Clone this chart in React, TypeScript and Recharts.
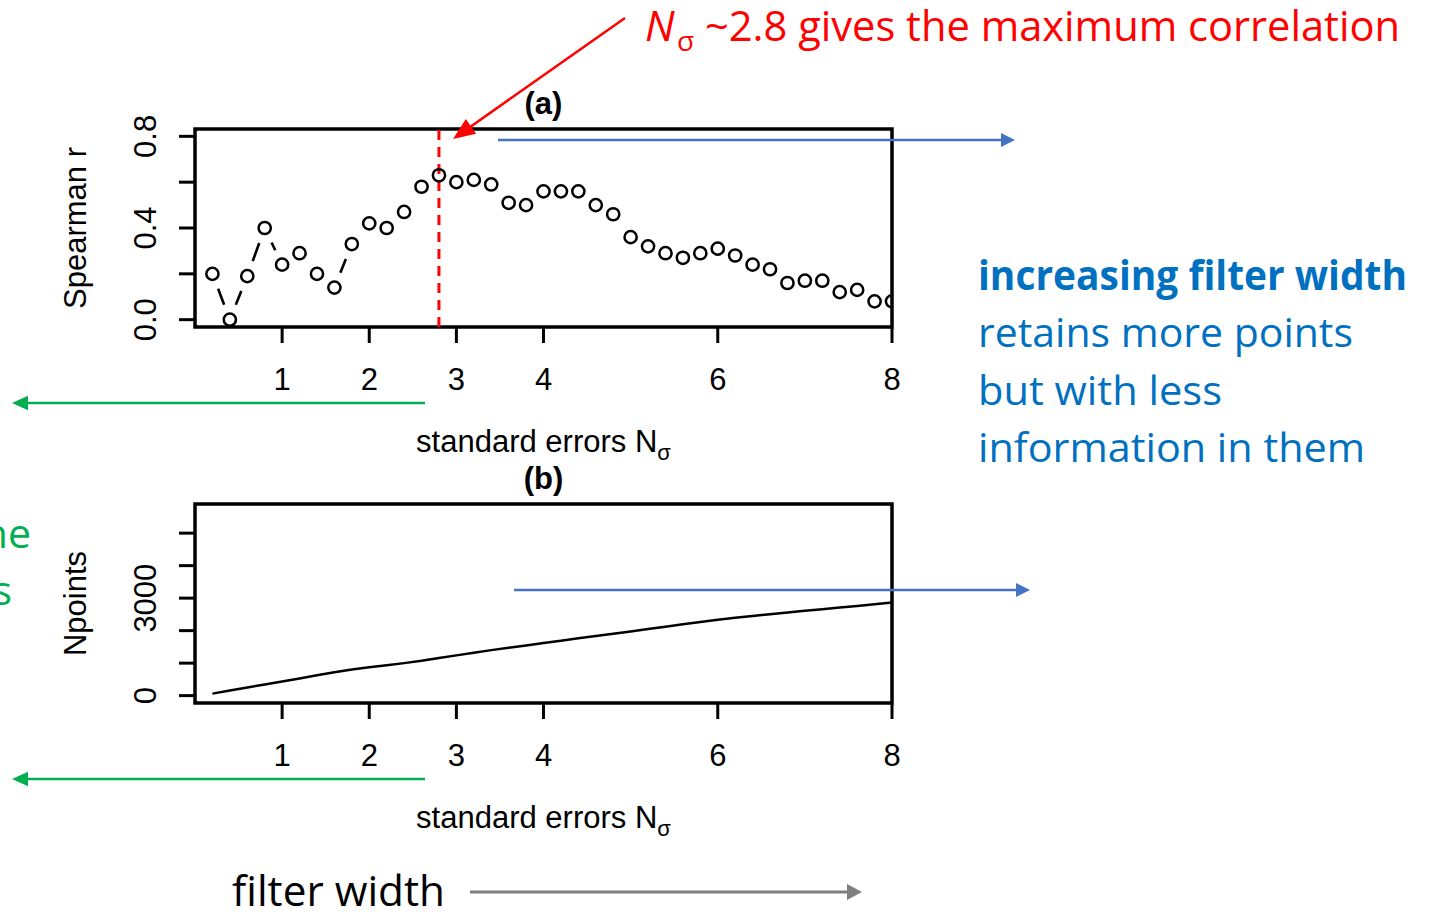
import React from 'react';
import {
  ComposedChart,
  Scatter,
  Line,
  XAxis,
  YAxis,
  ReferenceLine,
  ReferenceArea,
  Label,
} from 'recharts';

// Filter width in standard errors (N_sigma)
const nSigma = [
  0.2, 0.4, 0.6, 0.8, 1.0, 1.2, 1.4, 1.6, 1.8, 2.0,
  2.2, 2.4, 2.6, 2.8, 3.0, 3.2, 3.4, 3.6, 3.8, 4.0,
  4.2, 4.4, 4.6, 4.8, 5.0, 5.2, 5.4, 5.6, 5.8, 6.0,
  6.2, 6.4, 6.6, 6.8, 7.0, 7.2, 7.4, 7.6, 7.8, 8.0,
];

// (a) Spearman correlation for each filter width
const spearmanR = [
  0.20, 0.00, 0.19, 0.40, 0.24, 0.29, 0.20, 0.14, 0.33, 0.42,
  0.40, 0.47, 0.58, 0.63, 0.60, 0.61, 0.59, 0.51, 0.50, 0.56,
  0.56, 0.56, 0.50, 0.46, 0.36, 0.32, 0.29, 0.27, 0.29, 0.31,
  0.28, 0.24, 0.22, 0.16, 0.17, 0.17, 0.12, 0.13, 0.08, 0.08,
];

// (b) number of retained points for each filter width
const nPoints = [
  61, 155, 250, 345, 436, 530, 625, 720, 805, 875,
  935, 1000, 1070, 1155, 1239, 1320, 1400, 1470, 1545, 1619,
  1690, 1765, 1835, 1905, 1975, 2050, 2120, 2195, 2265, 2336,
  2395, 2450, 2505, 2560, 2610, 2660, 2710, 2760, 2815, 2867,
];

const xTicks = [1, 2, 3, 4, 6, 8];
const rTicks = [0, 0.2, 0.4, 0.6, 0.8];
const rTickLabels = [0, 0.4, 0.8];
const npTicks = [0, 1000, 2000, 3000, 4000, 5000];
const npTickLabels = [0, 3000];
const bestNSigma = 2.8;

const xDomain: [number, number] = [0, 8];
const rDomain: [number, number] = [-0.032, 0.832];
const npDomain: [number, number] = [-227, 5897];

const corrData = nSigma.map((x, i) => ({ x, r: spearmanR[i] }));
const countData = nSigma.map((x, i) => ({ x, n: nPoints[i] }));

// ---- styling ----
const W = 1432;
const H = 912;
const AXIS_FONT = "'Liberation Sans', Arial, Helvetica, sans-serif";
const SLIDE_FONT = "'Open Sans', 'Noto Sans', sans-serif";
const AXIS_SIZE = 31;
const RED = '#ff0000';
const BLUE_TEXT = '#0070c0';
const BLUE_ARROW = '#4472c4';
const GREEN = '#00b050';
const GRAY = '#7f7f7f';
const POINT_GAP = 16; // type="b" style gap around each point

const tickLineStyle = { stroke: '#000', strokeWidth: 3 };

const XTick = (props: any) => {
  const { x, y, payload } = props;
  return (
    <text x={x} y={y} dy={22} textAnchor="middle" fontFamily={AXIS_FONT} fontSize={AXIS_SIZE} fill="#000">
      {payload.value}
    </text>
  );
};

const makeYTick = (labelled: number[], fmt: (v: number) => string) => (props: any) => {
  const { x, y, payload } = props;
  if (!labelled.includes(payload.value)) return <g />;
  return (
    <text
      x={x}
      y={y}
      transform={`rotate(-90, ${x}, ${y})`}
      textAnchor="middle"
      fontFamily={AXIS_FONT}
      fontSize={AXIS_SIZE}
      fill="#000"
    >
      {fmt(payload.value)}
    </text>
  );
};

const XTitle = (props: any) => {
  const vb = props.viewBox || {};
  const cx = vb.x + vb.width / 2;
  const by = vb.y + 125;
  return (
    <text x={cx} y={by} textAnchor="middle" fontFamily={AXIS_FONT} fontSize={AXIS_SIZE} fill="#000">
      standard errors N
      <tspan dy={8} fontSize={22}>σ</tspan>
    </text>
  );
};

const makeYTitle = (title: string) => (props: any) => {
  const vb = props.viewBox || {};
  const bx = vb.x + vb.width - 109;
  const cy = vb.y + vb.height / 2;
  return (
    <text
      x={bx}
      y={cy}
      transform={`rotate(-90, ${bx}, ${cy})`}
      textAnchor="middle"
      fontFamily={AXIS_FONT}
      fontSize={AXIS_SIZE}
      fill="#000"
    >
      {title}
    </text>
  );
};

const makePanelTitle = (title: string) => (props: any) => {
  const vb = props.viewBox || {};
  return (
    <text
      x={vb.x + vb.width / 2}
      y={vb.y - 15}
      textAnchor="middle"
      fontFamily={AXIS_FONT}
      fontWeight="bold"
      fontSize={31}
      fill="#000"
    >
      {title}
    </text>
  );
};

const OpenCircle = (props: any) => (
  <circle cx={props.cx} cy={props.cy} r={6.1} fill="none" stroke="#000" strokeWidth={2.5} />
);

// Connecting segments that stop short of each point (R's type = "b")
const GappedSegments = (props: any) => {
  const pts = (props.points || []).map((p: any) => ({ x: p.x ?? p.cx, y: p.y ?? p.cy }));
  const segs: React.ReactNode[] = [];
  for (let i = 0; i < pts.length - 1; i++) {
    const a = pts[i];
    const b = pts[i + 1];
    const dx = b.x - a.x;
    const dy = b.y - a.y;
    const d = Math.hypot(dx, dy);
    if (d <= 2 * POINT_GAP) continue;
    const ux = dx / d;
    const uy = dy / d;
    segs.push(
      <line
        key={i}
        x1={a.x + ux * POINT_GAP}
        y1={a.y + uy * POINT_GAP}
        x2={b.x - ux * POINT_GAP}
        y2={b.y - uy * POINT_GAP}
        stroke="#000"
        strokeWidth={2.6}
      />
    );
  }
  return <g>{segs}</g>;
};

type ArrowProps = {
  x1: number; y1: number; x2: number; y2: number;
  color: string; width: number; head: number; half: number;
};

const Arrow = ({ x1, y1, x2, y2, color, width, head, half }: ArrowProps) => {
  const dx = x2 - x1;
  const dy = y2 - y1;
  const d = Math.hypot(dx, dy);
  const ux = dx / d;
  const uy = dy / d;
  const bx = x2 - ux * head;
  const by = y2 - uy * head;
  const px = -uy * half;
  const py = ux * half;
  return (
    <g>
      <line x1={x1} y1={y1} x2={bx + ux * 1} y2={by + uy * 1} stroke={color} strokeWidth={width} />
      <polygon points={`${x2},${y2} ${bx + px},${by + py} ${bx - px},${by - py}`} fill={color} />
    </g>
  );
};

const layer: React.CSSProperties = { position: 'absolute', left: 0, top: 0, width: W, height: H };

export default function App() {
  return (
    <div style={{ position: 'absolute', left: 0, top: 0, width: W, height: H, background: '#fff', overflow: 'hidden' }}>
      {/* (a) Spearman r versus filter width */}
      <div style={layer}>
        <ComposedChart
          width={W}
          height={H}
          data={corrData}
          margin={{ top: 129, right: W - 892, bottom: H - 327 - 135, left: 195 - 130 }}
        >
          <XAxis
            dataKey="x"
            type="number"
            domain={xDomain}
            ticks={xTicks}
            interval={0}
            allowDataOverflow
            axisLine={false}
            tickLine={tickLineStyle}
            tickSize={16}
            tickMargin={25}
            height={135}
            tick={XTick}
          >
            <Label content={XTitle} />
          </XAxis>
          <YAxis
            dataKey="r"
            type="number"
            domain={rDomain}
            ticks={rTicks}
            interval={0}
            allowDataOverflow
            axisLine={false}
            tickLine={tickLineStyle}
            tickSize={16}
            tickMargin={23}
            width={130}
            tick={makeYTick(rTickLabels, (v) => v.toFixed(1))}
          >
            <Label content={makeYTitle('Spearman r')} />
          </YAxis>
          <ReferenceLine
            x={bestNSigma}
            stroke={RED}
            strokeWidth={3}
            strokeDasharray="10 7"
          />
          <Scatter
            dataKey="r"
            shape={OpenCircle}
            line={GappedSegments as any}
            isAnimationActive={false}
          />
          <ReferenceArea
            x1={xDomain[0]}
            x2={xDomain[1]}
            y1={rDomain[0]}
            y2={rDomain[1]}
            fill="none"
            fillOpacity={0}
            stroke="#000"
            strokeWidth={3.5}
            ifOverflow="visible"
          >
            <Label content={makePanelTitle('(a)')} />
          </ReferenceArea>
        </ComposedChart>
      </div>

      {/* (b) number of points versus filter width */}
      <div style={layer}>
        <ComposedChart
          width={W}
          height={H}
          data={countData}
          margin={{ top: 504, right: W - 892, bottom: H - 703 - 135, left: 195 - 130 }}
        >
          <XAxis
            dataKey="x"
            type="number"
            domain={xDomain}
            ticks={xTicks}
            interval={0}
            allowDataOverflow
            axisLine={false}
            tickLine={tickLineStyle}
            tickSize={16}
            tickMargin={25}
            height={135}
            tick={XTick}
          >
            <Label content={XTitle} />
          </XAxis>
          <YAxis
            type="number"
            domain={npDomain}
            ticks={npTicks}
            interval={0}
            allowDataOverflow
            axisLine={false}
            tickLine={tickLineStyle}
            tickSize={16}
            tickMargin={23}
            width={130}
            tick={makeYTick(npTickLabels, (v) => String(v))}
          >
            <Label content={makeYTitle('Npoints')} />
          </YAxis>
          <Line
            type="linear"
            dataKey="n"
            stroke="#000"
            strokeWidth={2.5}
            dot={false}
            activeDot={false}
            isAnimationActive={false}
          />
          <ReferenceArea
            x1={xDomain[0]}
            x2={xDomain[1]}
            y1={npDomain[0]}
            y2={npDomain[1]}
            fill="none"
            fillOpacity={0}
            stroke="#000"
            strokeWidth={3.5}
            ifOverflow="visible"
          >
            <Label content={makePanelTitle('(b)')} />
          </ReferenceArea>
        </ComposedChart>
      </div>

      {/* callouts around the two panels */}
      <svg style={{ ...layer, pointerEvents: 'none' }} width={W} height={H}>
        <g fontFamily={SLIDE_FONT}>
          <text x={645} y={41} fontStyle="italic" fontSize={42} fill={RED}>N</text>
          <text x={677} y={51} fontSize={28} fill={RED}>σ</text>
          <text x={705} y={41} fontSize={42} fill={RED} textLength={695} lengthAdjust="spacingAndGlyphs">
            {`~${bestNSigma} gives the maximum correlation`}
          </text>
          <Arrow x1={625} y1={18} x2={453} y2={139} color={RED} width={2.5} head={22} half={9} />

          <Arrow x1={498} y1={140} x2={1015} y2={140} color={BLUE_ARROW} width={2.5} head={14} half={7} />
          <Arrow x1={514} y1={590} x2={1030} y2={590} color={BLUE_ARROW} width={2.5} head={14} half={7} />

          <text x={978} y={290} fontSize={41} fontWeight="bold" fill={BLUE_TEXT} textLength={429} lengthAdjust="spacingAndGlyphs">
            increasing filter width
          </text>
          <text x={978} y={347} fontSize={41} fill={BLUE_TEXT} textLength={375} lengthAdjust="spacingAndGlyphs">
            retains more points
          </text>
          <text x={978} y={405} fontSize={41} fill={BLUE_TEXT} textLength={244} lengthAdjust="spacingAndGlyphs">
            but with less
          </text>
          <text x={978} y={462} fontSize={41} fill={BLUE_TEXT} textLength={387} lengthAdjust="spacingAndGlyphs">
            information in them
          </text>

          <Arrow x1={425} y1={403} x2={12} y2={403} color={GREEN} width={2.7} head={16} half={7.3} />
          <Arrow x1={425} y1={779} x2={12} y2={779} color={GREEN} width={2.7} head={16} half={7.3} />
          <text x={31} y={548} textAnchor="end" fontSize={41} fill={GREEN}>ne</text>
          <text x={12} y={605} textAnchor="end" fontSize={41} fill={GREEN}>s</text>

          <text x={232} y={906} fontSize={42} fill="#000" textLength={213} lengthAdjust="spacingAndGlyphs">
            filter width
          </text>
          <Arrow x1={470} y1={892} x2={862} y2={892} color={GRAY} width={3} head={15} half={8} />
        </g>
      </svg>
    </div>
  );
}
